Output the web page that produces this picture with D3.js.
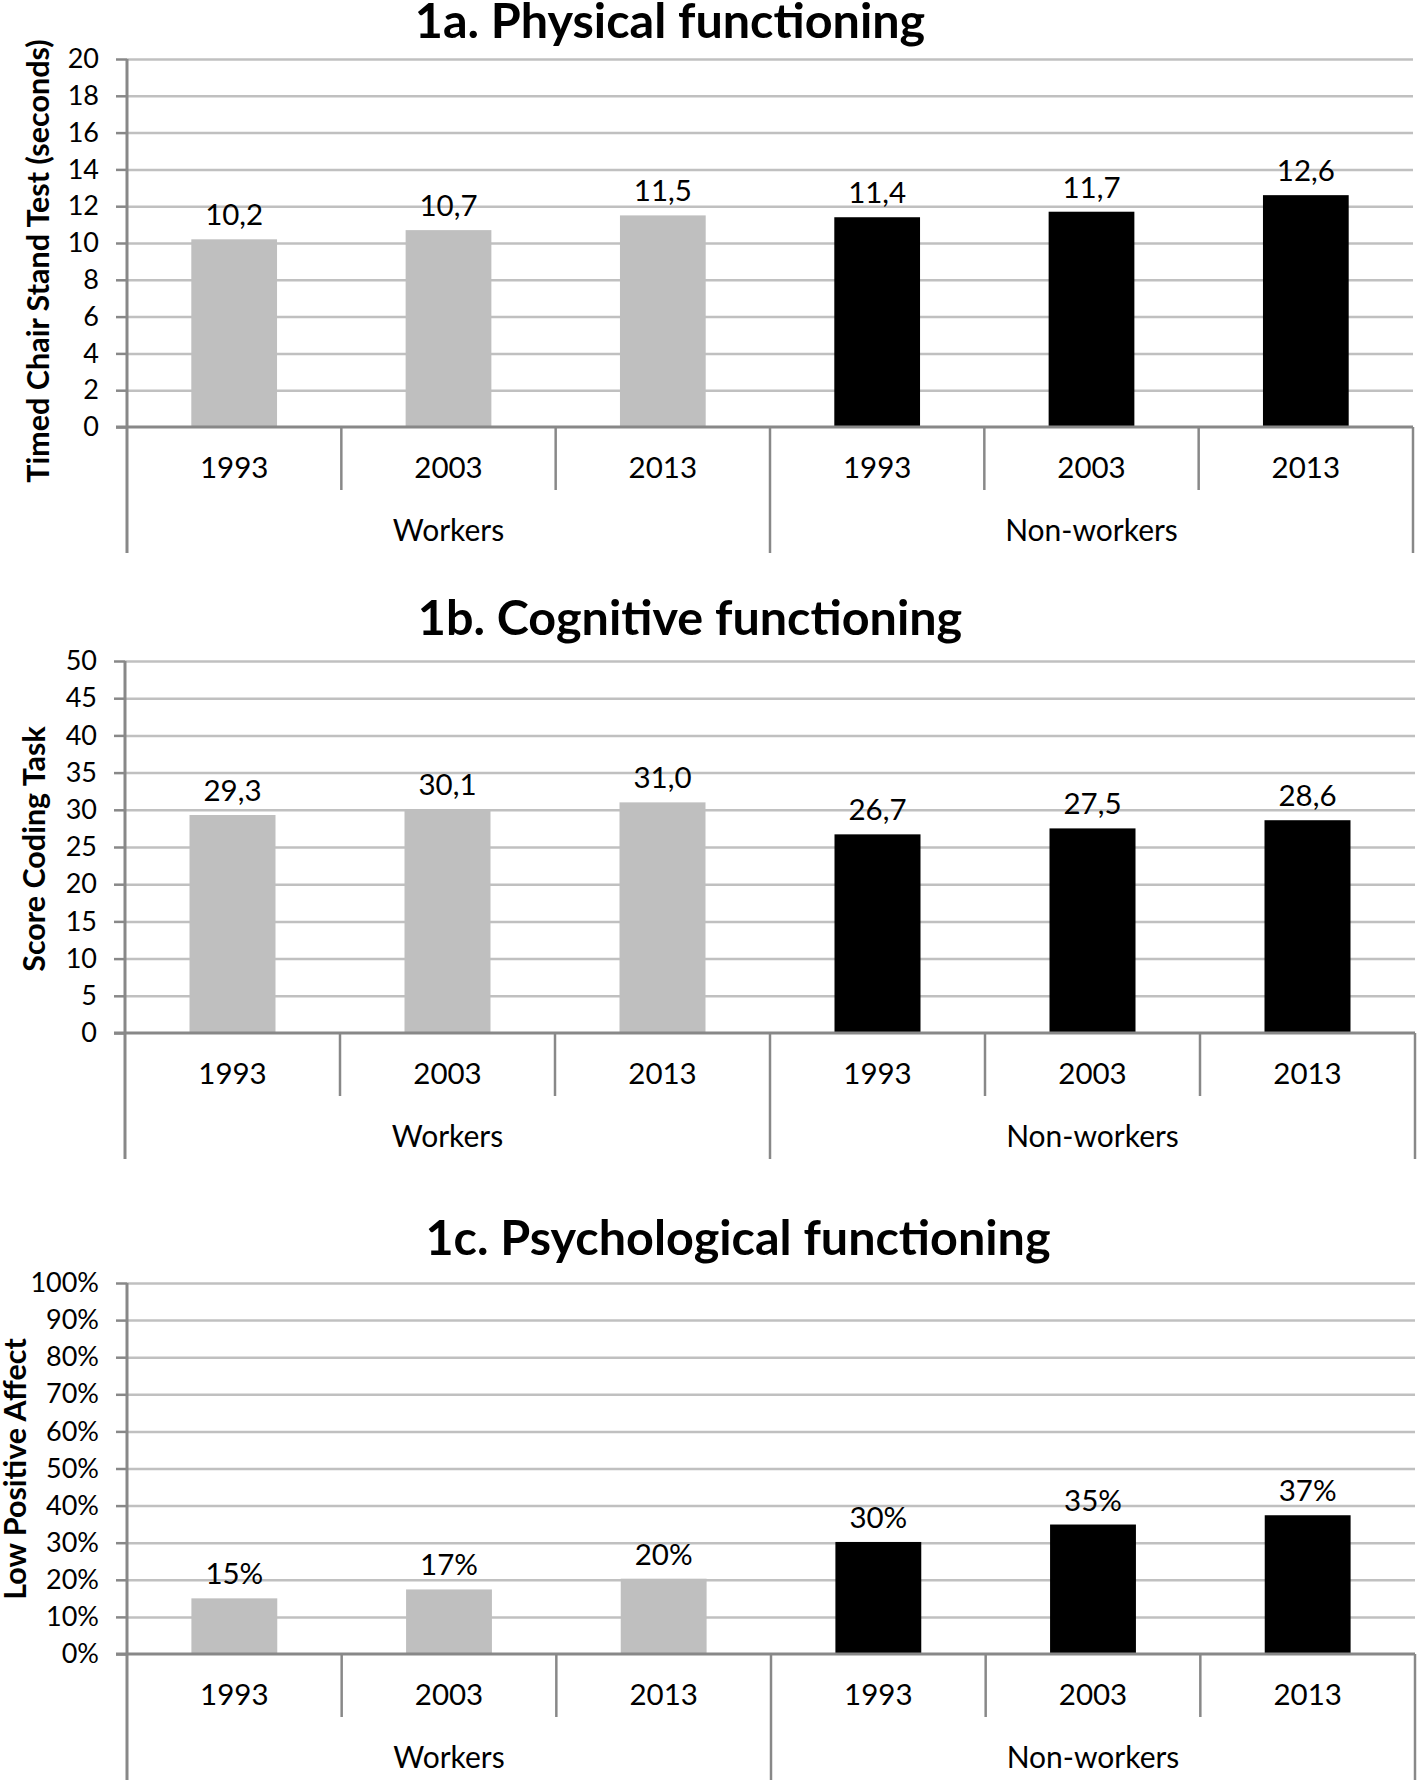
<!DOCTYPE html>
<html lang="en">
<head>
  <meta charset="UTF-8">
  <title>Functioning of workers and non-workers</title>
  <style>
    body { margin: 0; background: #fff; }
    svg { display: block; }
    text { font-family: Lato, "Open Sans", sans-serif; fill: #000; }
  </style>
</head>
<body>
  <svg id="chart" width="1419" height="1780"></svg>

  <script src="https://d3js.org/d3.v7.min.js"></script>
  <script>
    // data
    const years = ["1993", "2003", "2013", "1993", "2003", "2013"];
    const groups = ["Workers", "Non-workers"];
    const physical = [10.2, 10.7, 11.5, 11.4, 11.7, 12.6];
    const cognitive = [29.3, 30.1, 31.0, 26.7, 27.5, 28.6];
    const psychological = [0.15, 0.174, 0.203, 0.302, 0.349, 0.374];
    const physicalTicks = [0, 2, 4, 6, 8, 10, 12, 14, 16, 18, 20];
    const cognitiveTicks = [0, 5, 10, 15, 20, 25, 30, 35, 40, 45, 50];
    const psychTicks = [0, 0.1, 0.2, 0.3, 0.4, 0.5, 0.6, 0.7, 0.8, 0.9, 1];

    const commaFmt = v => d3.format(".1f")(v).replace(".", ",");
    const pctFmt = d3.format(".0%");

    const panels = [
      { title: "1a. Physical functioning", yTitle: "Timed Chair Stand Test (seconds)",
        values: physical, ticks: physicalTicks, tickFmt: d3.format("d"), labelFmt: commaFmt,
        left: 127, right: 1413, top: 59, bottom: 427, titleX: 670, titleY: 38, yTitleX: 49, yTitleY: 261 },
      { title: "1b. Cognitive functioning", yTitle: "Score Coding Task",
        values: cognitive, ticks: cognitiveTicks, tickFmt: d3.format("d"), labelFmt: commaFmt,
        left: 125, right: 1415, top: 661, bottom: 1033, titleX: 690, titleY: 635, yTitleX: 45, yTitleY: 849 },
      { title: "1c. Psychological functioning", yTitle: "Low Positive Affect",
        values: psychological, ticks: psychTicks, tickFmt: pctFmt, labelFmt: pctFmt,
        left: 127, right: 1415, top: 1283, bottom: 1654, titleX: 738, titleY: 1255, yTitleX: 26, yTitleY: 1469 }
    ];

    const gridColor = "#c0c0c0";
    const axisColor = "#888888";
    const barColors = ["#bfbfbf", "#000000"];
    const labelSize = 29.5;

    const svg = d3.select("#chart");

    panels.forEach(p => {
      const g = svg.append("g");
      const idx = d3.range(years.length);

      const x = d3.scaleBand().domain(idx).range([p.left, p.right]).padding(0);
      const y = d3.scaleLinear().domain([p.ticks[0], p.ticks[p.ticks.length - 1]]).range([p.bottom, p.top]);
      const bw = x.bandwidth();

      // gridlines
      g.append("g")
        .attr("transform", `translate(${p.left},0)`)
        .call(d3.axisLeft(y).tickValues(p.ticks.slice(1)).tickSize(-(p.right - p.left)).tickFormat(""))
        .call(a => a.select(".domain").remove())
        .call(a => a.selectAll("line").attr("stroke", gridColor).attr("stroke-width", 2.5));

      // y axis ticks + labels
      g.append("g")
        .attr("transform", `translate(${p.left},0)`)
        .call(d3.axisLeft(y).tickValues(p.ticks).tickSize(11).tickPadding(17).tickFormat(p.tickFmt))
        .call(a => a.select(".domain").remove())
        .call(a => a.selectAll("line").attr("stroke", axisColor).attr("stroke-width", 2.5))
        .call(a => a.selectAll("text").attr("font-size", 27).attr("font-family", "Lato, sans-serif").attr("fill", "#000"));

      // bars
      g.selectAll("rect.bar")
        .data(p.values)
        .join("rect")
        .attr("class", "bar")
        .attr("x", (d, i) => x(i) + bw * 0.3)
        .attr("width", bw * 0.4)
        .attr("y", d => y(d))
        .attr("height", d => p.bottom - y(d))
        .attr("fill", (d, i) => barColors[i < 3 ? 0 : 1]);

      // value labels
      g.selectAll("text.val")
        .data(p.values)
        .join("text")
        .attr("class", "val")
        .attr("x", (d, i) => x(i) + bw / 2)
        .attr("y", d => y(d) - 14)
        .attr("text-anchor", "middle")
        .attr("font-size", labelSize)
        .text(d => p.labelFmt(d));

      // vertical axis line, extends down through category rows
      g.append("line")
        .attr("x1", p.left).attr("x2", p.left)
        .attr("y1", p.top).attr("y2", p.bottom + 126)
        .attr("stroke", axisColor).attr("stroke-width", 3);

      // baseline
      g.append("line")
        .attr("x1", p.left - 11).attr("x2", p.right)
        .attr("y1", p.bottom).attr("y2", p.bottom)
        .attr("stroke", axisColor).attr("stroke-width", 3);

      // category separators
      d3.range(1, years.length + 1).forEach(k => {
        const sx = k < years.length ? x(k) : p.right;
        const isGroup = k % 3 === 0;
        g.append("line")
          .attr("x1", sx).attr("x2", sx)
          .attr("y1", p.bottom).attr("y2", p.bottom + (isGroup ? 126 : 63))
          .attr("stroke", axisColor).attr("stroke-width", 2.5);
      });

      // year labels
      g.selectAll("text.year")
        .data(years)
        .join("text")
        .attr("class", "year")
        .attr("x", (d, i) => x(i) + bw / 2)
        .attr("y", p.bottom + 51)
        .attr("text-anchor", "middle")
        .attr("font-size", labelSize)
        .text(d => d);

      // group labels
      g.selectAll("text.grp")
        .data(groups)
        .join("text")
        .attr("class", "grp")
        .attr("x", (d, i) => (x(i * 3) + x(i * 3 + 2) + bw) / 2)
        .attr("y", p.bottom + 114)
        .attr("text-anchor", "middle")
        .attr("font-size", 30)
        .text(d => d);

      // title
      g.append("text")
        .attr("x", p.titleX)
        .attr("y", p.titleY)
        .attr("text-anchor", "middle")
        .attr("font-size", 48.5)
        .attr("font-weight", "bold")
        .text(p.title);

      // y axis title
      g.append("text")
        .attr("transform", `translate(${p.yTitleX},${p.yTitleY}) rotate(-90)`)
        .attr("text-anchor", "middle")
        .attr("font-size", 30.5)
        .attr("font-weight", "bold")
        .text(p.yTitle);
    });
  </script>
</body>
</html>
